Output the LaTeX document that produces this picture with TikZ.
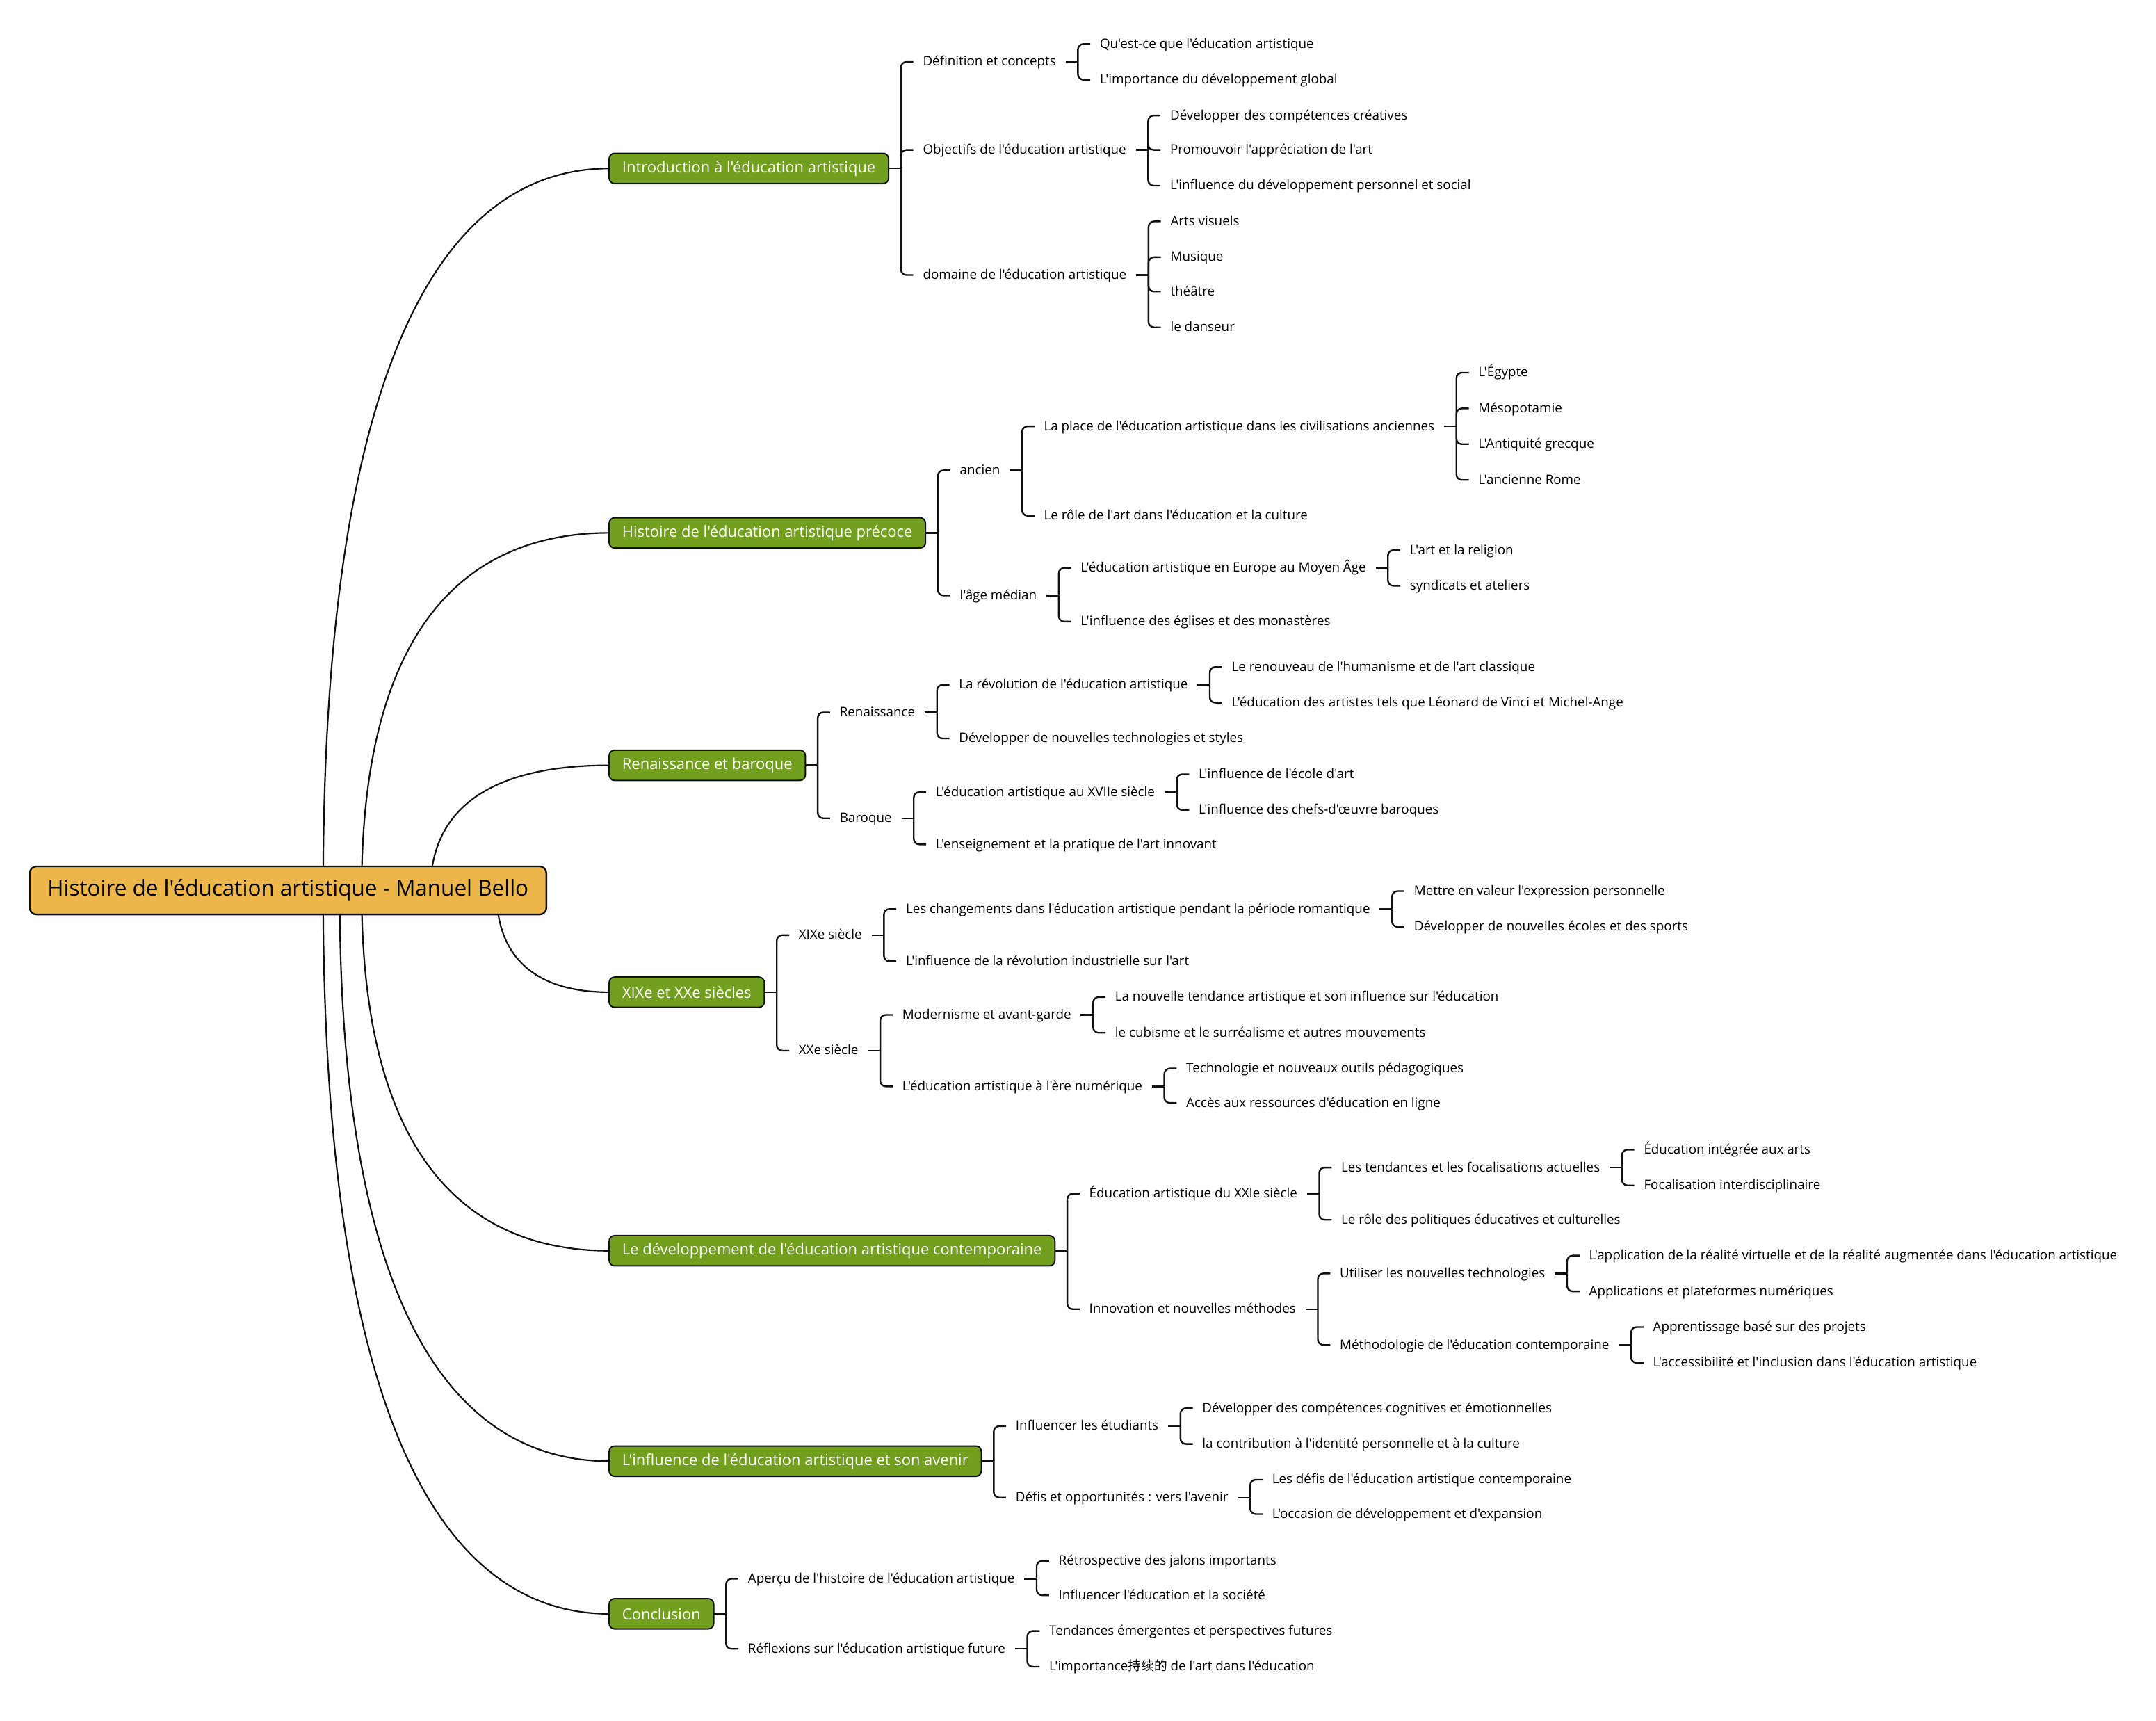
\documentclass[tikz,border=0pt]{standalone}
\usepackage{fontspec}
\newfontfamily\mapfont{Open Sans}
\newfontfamily\cjk{Noto Sans CJK SC}
\usetikzlibrary{backgrounds}
\definecolor{rootFill}{HTML}{ECB64A}
\definecolor{topicFill}{HTML}{72A01E}
\definecolor{edgeColor}{HTML}{111111}
% curve from the central topic to a main topic
\newcommand{\topicLink}[4]{%
  \draw[curveStyle] ([xshift=#2pt]root.center)
  .. controls +(0,#3) and +(-#4,0) .. (#1.west);
}
% child of #1 named #2, at height #3, with text #4
\newcommand{\subNode}[4]{%
  \path (#1.east) ++(18,0) coordinate (#2-x);
  \node[leafStyle] (#2) at (#2-x |- 0,#3) {#4};
  \draw[lineStyle] (#1.east) -- ++(9,0);
  \draw[lineStyle,rounded corners=4pt] ([xshift=9pt]#1.east) |- (#2.west);
}

\begin{document}
\begin{tikzpicture}[%
  x=1pt, y=-1pt,
  lineStyle/.style={draw=edgeColor, line width=1.2pt},
  curveStyle/.style={draw=edgeColor, line width=1.1pt},
  rootStyle/.style={draw=edgeColor, fill=rootFill, rounded corners=5pt,
    line width=1.2pt, inner xsep=13pt, minimum height=35pt, outer sep=0pt,
    font=\mapfont\fontsize{15.9}{18}\selectfont},
  topicStyle/.style={draw=edgeColor, fill=topicFill, text=white,
    rounded corners=4pt, line width=1pt, inner xsep=9.5pt,
    minimum height=22pt, outer sep=0pt, anchor=west,
    font=\mapfont\fontsize{11.1}{13}\selectfont},
  leafStyle/.style={anchor=west, inner xsep=0pt, outer xsep=7pt,
    inner ysep=0pt, text height=7.5pt, text depth=1.5pt,
    font=\mapfont\fontsize{9.5}{11}\selectfont}%
]
\useasboundingbox (0,0) rectangle (1568,1251);
%
%
% Central topic and main topics.
\node[rootStyle] (root) at (209.5,647.5)
  {Histoire de l'éducation artistique - Manuel Bello};
\node[topicStyle] (n1) at (443,122.5) {Introduction à l'éducation artistique};
\node[topicStyle] (n2) at (443,387.5) {Histoire de l'éducation artistique précoce};
\node[topicStyle] (n3) at (443,556.5) {Renaissance et baroque};
\node[topicStyle] (n4) at (443,721.5) {XIXe et XXe siècles};
\node[topicStyle] (n5) at (443,909.5) {Le développement de l'éducation artistique contemporaine};
\node[topicStyle] (n6) at (443,1062.5) {L'influence de l'éducation artistique et son avenir};
\node[topicStyle] (n7) at (443,1173.5) {Conclusion};
%
\begin{pgfonlayer}{background}
\fill[white] (0,0) rectangle (1568,1251);
\topicLink{n1}{25.5}{-420}{104}
\topicLink{n2}{53.5}{-208}{90}
\topicLink{n3}{103.5}{-73}{65}
\topicLink{n4}{151.5}{59}{41}
\topicLink{n5}{53.5}{210}{90}
\topicLink{n6}{37.5}{332}{98}
\topicLink{n7}{25.5}{421}{104}
\end{pgfonlayer}
%
% Introduction.
\subNode{n1}{n1a}{45}{Définition et concepts}
\subNode{n1a}{n1a1}{32}{Qu'est-ce que l'éducation artistique}
\subNode{n1a}{n1a2}{58}{L'importance du développement global}
\subNode{n1}{n1b}{109}{Objectifs de l'éducation artistique}
\subNode{n1b}{n1b1}{84}{Développer des compétences créatives}
\subNode{n1b}{n1b2}{109}{Promouvoir l'appréciation de l'art}
\subNode{n1b}{n1b3}{135}{L'influence du développement personnel et social}
\subNode{n1}{n1c}{200}{domaine de l'éducation artistique}
\subNode{n1c}{n1c1}{161}{Arts visuels}
\subNode{n1c}{n1c2}{187}{Musique}
\subNode{n1c}{n1c3}{212}{théâtre}
\subNode{n1c}{n1c4}{238}{le danseur}
%
% Early history.
\subNode{n2}{n2a}{342}{ancien}
\subNode{n2a}{n2a1}{310}{La place de l'éducation artistique dans les civilisations anciennes}
\subNode{n2a1}{n2a1a}{271}{L'Égypte}
\subNode{n2a1}{n2a1b}{297}{Mésopotamie}
\subNode{n2a1}{n2a1c}{323}{L'Antiquité grecque}
\subNode{n2a1}{n2a1d}{349}{L'ancienne Rome}
\subNode{n2a}{n2a2}{375}{Le rôle de l'art dans l'éducation et la culture}
\subNode{n2}{n2b}{433}{l'âge médian}
\subNode{n2b}{n2b1}{413}{L'éducation artistique en Europe au Moyen Âge}
\subNode{n2b1}{n2b1a}{400}{L'art et la religion}
\subNode{n2b1}{n2b1b}{426}{syndicats et ateliers}
\subNode{n2b}{n2b2}{452}{L'influence des églises et des monastères}
%
% Renaissance and baroque.
\subNode{n3}{n3a}{518}{Renaissance}
\subNode{n3a}{n3a1}{498}{La révolution de l'éducation artistique}
\subNode{n3a1}{n3a1a}{485}{Le renouveau de l'humanisme et de l'art classique}
\subNode{n3a1}{n3a1b}{511}{L'éducation des artistes tels que Léonard de Vinci et Michel-Ange}
\subNode{n3a}{n3a2}{537}{Développer de nouvelles technologies et styles}
\subNode{n3}{n3b}{595}{Baroque}
\subNode{n3b}{n3b1}{576}{L'éducation artistique au XVIIe siècle}
\subNode{n3b1}{n3b1a}{563}{L'influence de l'école d'art}
\subNode{n3b1}{n3b1b}{589}{L'influence des chefs-d'œuvre baroques}
\subNode{n3b}{n3b2}{614}{L'enseignement et la pratique de l'art innovant}
%
% 19th and 20th centuries.
\subNode{n4}{n4a}{680}{XIXe siècle}
\subNode{n4a}{n4a1}{661}{Les changements dans l'éducation artistique pendant la période romantique}
\subNode{n4a1}{n4a1a}{648}{Mettre en valeur l'expression personnelle}
\subNode{n4a1}{n4a1b}{674}{Développer de nouvelles écoles et des sports}
\subNode{n4a}{n4a2}{699}{L'influence de la révolution industrielle sur l'art}
\subNode{n4}{n4b}{764}{XXe siècle}
\subNode{n4b}{n4b1}{738}{Modernisme et avant-garde}
\subNode{n4b1}{n4b1a}{725}{La nouvelle tendance artistique et son influence sur l'éducation}
\subNode{n4b1}{n4b1b}{751}{le cubisme et le surréalisme et autres mouvements}
\subNode{n4b}{n4b2}{790}{L'éducation artistique à l'ère numérique}
\subNode{n4b2}{n4b2a}{777}{Technologie et nouveaux outils pédagogiques}
\subNode{n4b2}{n4b2b}{802}{Accès aux ressources d'éducation en ligne}
%
% Contemporary development.
\subNode{n5}{n5a}{868}{Éducation artistique du XXIe siècle}
\subNode{n5a}{n5a1}{849}{Les tendances et les focalisations actuelles}
\subNode{n5a1}{n5a1a}{836}{Éducation intégrée aux arts}
\subNode{n5a1}{n5a1b}{862}{Focalisation interdisciplinaire}
\subNode{n5a}{n5a2}{887}{Le rôle des politiques éducatives et culturelles}
\subNode{n5}{n5b}{952}{Innovation et nouvelles méthodes}
\subNode{n5b}{n5b1}{926}{Utiliser les nouvelles technologies}
\subNode{n5b1}{n5b1a}{913}{L'application de la réalité virtuelle et de la réalité augmentée dans l'éducation artistique}
\subNode{n5b1}{n5b1b}{939}{Applications et plateformes numériques}
\subNode{n5b}{n5b2}{978}{Méthodologie de l'éducation contemporaine}
\subNode{n5b2}{n5b2a}{965}{Apprentissage basé sur des projets}
\subNode{n5b2}{n5b2b}{991}{L'accessibilité et l'inclusion dans l'éducation artistique}
%
% Influence and future.
\subNode{n6}{n6a}{1037}{Influencer les étudiants}
\subNode{n6a}{n6a1}{1024}{Développer des compétences cognitives et émotionnelles}
\subNode{n6a}{n6a2}{1050}{la contribution à l'identité personnelle et à la culture}
\subNode{n6}{n6b}{1089}{Défis et opportunités : vers l'avenir}
\subNode{n6b}{n6b1}{1076}{Les défis de l'éducation artistique contemporaine}
\subNode{n6b}{n6b2}{1101}{L'occasion de développement et d'expansion}
%
% Conclusion.
\subNode{n7}{n7a}{1148}{Aperçu de l'histoire de l'éducation artistique}
\subNode{n7a}{n7a1}{1135}{Rétrospective des jalons importants}
\subNode{n7a}{n7a2}{1160}{Influencer l'éducation et la société}
\subNode{n7}{n7b}{1199}{Réflexions sur l'éducation artistique future}
\subNode{n7b}{n7b1}{1186}{Tendances émergentes et perspectives futures}
\subNode{n7b}{n7b2}{1212}{L'importance{\cjk 持续的} de l'art dans l'éducation}
\end{tikzpicture}
\end{document}
